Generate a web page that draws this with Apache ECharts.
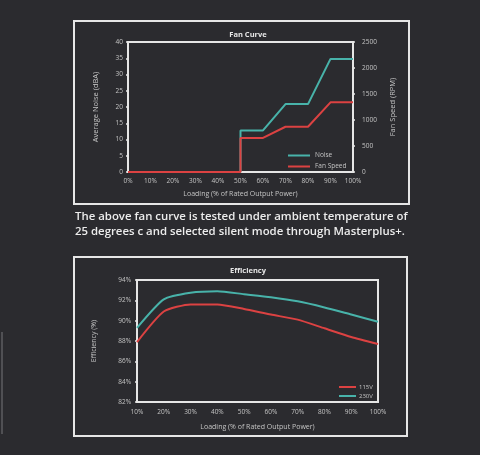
<!DOCTYPE html>
<html><head><meta charset="utf-8">
<style>html,body{margin:0;padding:0;background:#2b2b2f;}#c{width:480px;height:455px;}</style>
<script src="https://cdn.jsdelivr.net/npm/echarts@6/dist/echarts.min.js"></script>
</head><body><div id="c"></div>
<script>
// Fan curve data
const fanLoad = [0, 10, 20, 30, 40, 50, 50, 60, 70, 80, 90, 100];
const noiseDb = [0, 0, 0, 0, 0, 0, 12.8, 12.8, 20.9, 20.9, 34.8, 34.8];
const fanRpm = [0, 0, 0, 0, 0, 0, 655, 655, 870, 870, 1340, 1340];
// Efficiency data
const effLoad = ['10%', '20%', '30%', '40%', '50%', '60%', '70%', '80%', '90%', '100%'];
const eff115 = [87.9, 90.9, 91.6, 91.6, 91.15, 90.6, 90.1, 89.25, 88.4, 87.7];
const eff230 = [89.3, 92.1, 92.75, 92.9, 92.6, 92.3, 91.9, 91.3, 90.6, 89.9];
const caption = ['The above fan curve is tested under ambient temperature of', '25 degrees c and selected silent mode through Masterplus+.'];

const TEAL = '#48b3aa', RED = '#dc4242', WHITE = '#e6e6e6', TXT = '#c4c4c4';
const FONT = '"Open Sans", "Noto Sans", sans-serif';
const chart = echarts.init(document.getElementById('c'));
const axLabel = {color: TXT, fontSize: 6.5, fontFamily: FONT};
const axLine = {show: true, lineStyle: {color: WHITE, width: 2}};
const tick = {show: true, length: 2, inside: false, lineStyle: {color: WHITE, width: 1.5}};
chart.setOption({
  backgroundColor: '#2b2b2f',
  animation: false,
  title: [
    {text: 'Fan Curve', left: 243, top: 26, textAlign: 'center', textStyle: {color: WHITE, fontSize: 7.5, fontWeight: 'bold', fontFamily: FONT}},
    {text: 'Efficiency', left: 243, top: 262, textAlign: 'center', textStyle: {color: WHITE, fontSize: 7.5, fontWeight: 'bold', fontFamily: FONT}}
  ],
  grid: [
    {left: 128, top: 42, width: 225, height: 130, show: true, borderColor: WHITE, borderWidth: 2},
    {left: 137, top: 280, width: 241, height: 122, show: true, borderColor: WHITE, borderWidth: 2}
  ],
  legend: [
    {data: ['Noise', 'Fan Speed'], orient: 'vertical', left: 283, top: 147, itemWidth: 22, itemHeight: 2, itemGap: 4,
     icon: 'rect', textStyle: {color: TXT, fontSize: 6.5, fontFamily: FONT}},
    {data: ['115V', '230V'], orient: 'vertical', left: 334, top: 379, itemWidth: 17, itemHeight: 2, itemGap: 3,
     icon: 'rect', textStyle: {color: TXT, fontSize: 6, fontFamily: FONT, padding: [0, 0, 0, -2]}}
  ],
  xAxis: [
    {gridIndex: 0, type: 'value', min: 0, max: 100, interval: 10, axisLine: axLine, axisTick: {show: false},
     splitLine: {show: false}, axisLabel: Object.assign({formatter: '{value}%', margin: 6}, axLabel),
     name: 'Loading (% of Rated Output Power)', nameLocation: 'middle', nameGap: 18,
     nameTextStyle: {color: TXT, fontSize: 7, fontFamily: FONT}},
    {gridIndex: 1, type: 'category', data: effLoad, boundaryGap: false, axisLine: axLine, axisTick: {show: false},
     splitLine: {show: false}, axisLabel: Object.assign({margin: 7}, axLabel),
     name: 'Loading (% of Rated Output Power)', nameLocation: 'middle', nameGap: 21,
     nameTextStyle: {color: TXT, fontSize: 7, fontFamily: FONT}}
  ],
  yAxis: [
    {gridIndex: 0, type: 'value', min: 0, max: 40, interval: 5, axisLine: axLine, axisTick: tick, splitLine: {show: false},
     axisLabel: Object.assign({margin: 5}, axLabel), name: 'Average Noise (dBA)', nameLocation: 'middle', nameGap: 28,
     nameTextStyle: {color: TXT, fontSize: 7.5, fontFamily: FONT}},
    {gridIndex: 0, type: 'value', position: 'right', min: 0, max: 2500, interval: 500, axisLine: axLine, axisTick: tick,
     splitLine: {show: false}, axisLabel: Object.assign({margin: 9, formatter: v => String(v)}, axLabel), name: 'Fan Speed (RPM)', nameLocation: 'middle',
     nameGap: 36, nameTextStyle: {color: TXT, fontSize: 7.5, fontFamily: FONT}},
    {gridIndex: 1, type: 'value', min: 82, max: 94, interval: 2, axisLine: axLine, axisTick: tick, splitLine: {show: false},
     axisLabel: Object.assign({formatter: '{value}%', margin: 6}, axLabel), name: 'Efficiency (%)', nameLocation: 'middle',
     nameGap: 40, nameTextStyle: {color: TXT, fontSize: 7, fontFamily: FONT}}
  ],
  series: [
    {name: 'Noise', type: 'line', xAxisIndex: 0, yAxisIndex: 0, data: fanLoad.map((x, i) => [x, noiseDb[i]]),
     symbol: 'none', lineStyle: {color: TEAL, width: 2}, itemStyle: {color: TEAL}},
    {name: 'Fan Speed', type: 'line', xAxisIndex: 0, yAxisIndex: 1, data: fanLoad.map((x, i) => [x, fanRpm[i]]),
     symbol: 'none', lineStyle: {color: RED, width: 2}, itemStyle: {color: RED}},
    {name: '115V', type: 'line', xAxisIndex: 1, yAxisIndex: 2, data: eff115, symbol: 'none', smooth: 0.2,
     lineStyle: {color: RED, width: 2}, itemStyle: {color: RED}},
    {name: '230V', type: 'line', xAxisIndex: 1, yAxisIndex: 2, data: eff230, symbol: 'none', smooth: 0.2,
     lineStyle: {color: TEAL, width: 2}, itemStyle: {color: TEAL}}
  ],
  graphic: [
    {type: 'rect', shape: {x: 74, y: 21, width: 335, height: 183}, style: {fill: 'none', stroke: WHITE, lineWidth: 2}},
    {type: 'rect', shape: {x: 74, y: 257, width: 333, height: 179}, style: {fill: 'none', stroke: WHITE, lineWidth: 2}},
    {type: 'text', left: 75, top: 209, style: {text: caption.join('\n'), fill: '#ececec', font: '600 11.4px ' + FONT, lineHeight: 15}},
    {type: 'line', shape: {x1: 2, y1: 332, x2: 2, y2: 434}, style: {stroke: '#77777a', lineWidth: 1}}
  ]
});
</script></body></html>
